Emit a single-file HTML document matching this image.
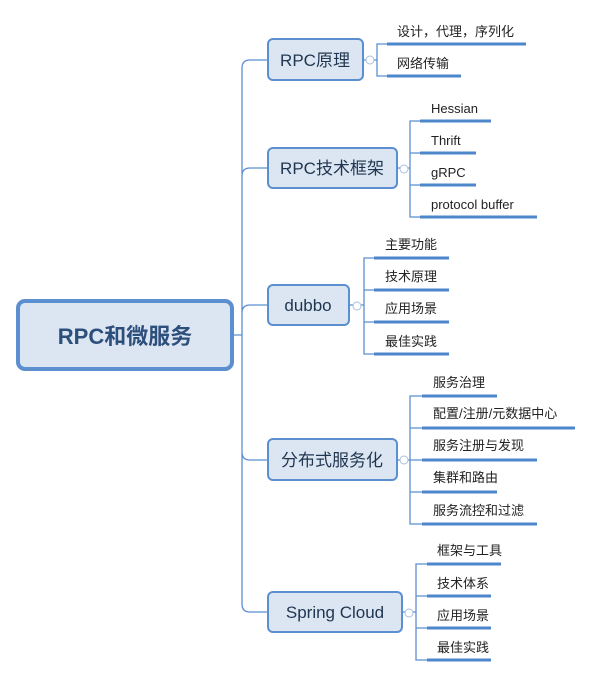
<!DOCTYPE html>
<html><head><meta charset="utf-8"><style>
body{margin:0;background:#fff}
svg{display:block}
text{font-family:"Liberation Sans","Noto Sans CJK SC",sans-serif;fill:#222}
.b{fill:#dce6f2;stroke:#5b8fd0;stroke-width:2}
.bt{font-size:17px;fill:#1f3550}
.l{stroke:#5b8fd0;stroke-width:1.3;fill:none}
.u{stroke:#4e86cc;stroke-width:3}
.lt{font-size:13px}
.c{fill:#fff;stroke:#a9bfe0;stroke-width:1}
</style></head><body>
<svg width="592" height="677" viewBox="0 0 592 677">
<path class="l" d="M242 68 Q242 60 250 60 H268 M242 68 V604 Q242 612 250 612 H268 M242 176 Q242 168 250 168 H268 M242 313 Q242 305 250 305 H268 M242 452 Q242 460 250 460 H268 M233 335 H242"/>
<rect x="18" y="301" width="214" height="68" rx="7" fill="#dce6f2" stroke="#5b8fd0" stroke-width="4"/>
<text x="125" y="344" text-anchor="middle" style="font-size:22px;font-weight:bold;fill:#2d4f7c">RPC和微服务</text>

<rect class="b" x="268" y="39" width="95" height="41" rx="5"/><text class="bt" x="315" y="66" text-anchor="middle">RPC原理</text>
<path class="l" d="M363 60 H377 M387 44 H377 V76 H387"/><circle class="c" cx="370" cy="60" r="4"/>
<line class="u" x1="387" y1="44" x2="526" y2="44"/><line class="u" x1="387" y1="76" x2="461" y2="76"/>
<text class="lt" x="397" y="36">设计，代理，序列化</text><text class="lt" x="397" y="68">网络传输</text>

<rect class="b" x="268" y="148" width="129" height="40" rx="5"/><text class="bt" x="332" y="174" text-anchor="middle">RPC技术框架</text>
<path class="l" d="M397 168 H410 M420 121 H410 V217 H420 M410 153 H420 M410 185 H420"/><circle class="c" cx="404" cy="169" r="4"/>
<line class="u" x1="420" y1="121" x2="491" y2="121"/><line class="u" x1="420" y1="153" x2="476" y2="153"/><line class="u" x1="420" y1="185" x2="476" y2="185"/><line class="u" x1="420" y1="217" x2="537" y2="217"/>
<text class="lt" x="431" y="113">Hessian</text><text class="lt" x="431" y="145">Thrift</text><text class="lt" x="431" y="177">gRPC</text><text class="lt" x="431" y="209">protocol buffer</text>

<rect class="b" x="268" y="285" width="81" height="40" rx="5"/><text class="bt" x="308" y="311" text-anchor="middle">dubbo</text>
<path class="l" d="M349 305 H364 M374 258 H364 V354 H374 M364 290 H374 M364 322 H374"/><circle class="c" cx="357" cy="306" r="4"/>
<line class="u" x1="374" y1="258" x2="449" y2="258"/><line class="u" x1="374" y1="290" x2="449" y2="290"/><line class="u" x1="374" y1="322" x2="449" y2="322"/><line class="u" x1="374" y1="354" x2="449" y2="354"/>
<text class="lt" x="385" y="249">主要功能</text><text class="lt" x="385" y="281">技术原理</text><text class="lt" x="385" y="313">应用场景</text><text class="lt" x="385" y="346">最佳实践</text>

<rect class="b" x="268" y="439" width="129" height="41" rx="5"/><text class="bt" x="332" y="466" text-anchor="middle">分布式服务化</text>
<path class="l" d="M397 460 H410 M422 396 H410 V524 H422 M410 428 H422 M410 460 H422 M410 492 H422"/><circle class="c" cx="404" cy="460" r="4"/>
<line class="u" x1="422" y1="396" x2="497" y2="396"/><line class="u" x1="422" y1="428" x2="575" y2="428"/><line class="u" x1="422" y1="460" x2="537" y2="460"/><line class="u" x1="422" y1="492" x2="497" y2="492"/><line class="u" x1="422" y1="524" x2="537" y2="524"/>
<text class="lt" x="433" y="387">服务治理</text><text class="lt" x="433" y="418">配置/注册/元数据中心</text><text class="lt" x="433" y="450">服务注册与发现</text><text class="lt" x="433" y="482">集群和路由</text><text class="lt" x="433" y="515">服务流控和过滤</text>

<rect class="b" x="268" y="592" width="134" height="40" rx="5"/><text class="bt" x="335" y="618" text-anchor="middle">Spring Cloud</text>
<path class="l" d="M402 612 H416 M427 564 H416 V660 H427 M416 596 H427 M416 628 H427"/><circle class="c" cx="409" cy="613" r="4"/>
<line class="u" x1="427" y1="564" x2="501" y2="564"/><line class="u" x1="427" y1="596" x2="491" y2="596"/><line class="u" x1="427" y1="628" x2="491" y2="628"/><line class="u" x1="427" y1="660" x2="491" y2="660"/>
<text class="lt" x="437" y="555">框架与工具</text><text class="lt" x="437" y="588">技术体系</text><text class="lt" x="437" y="620">应用场景</text><text class="lt" x="437" y="652">最佳实践</text>
</svg>
</body></html>
